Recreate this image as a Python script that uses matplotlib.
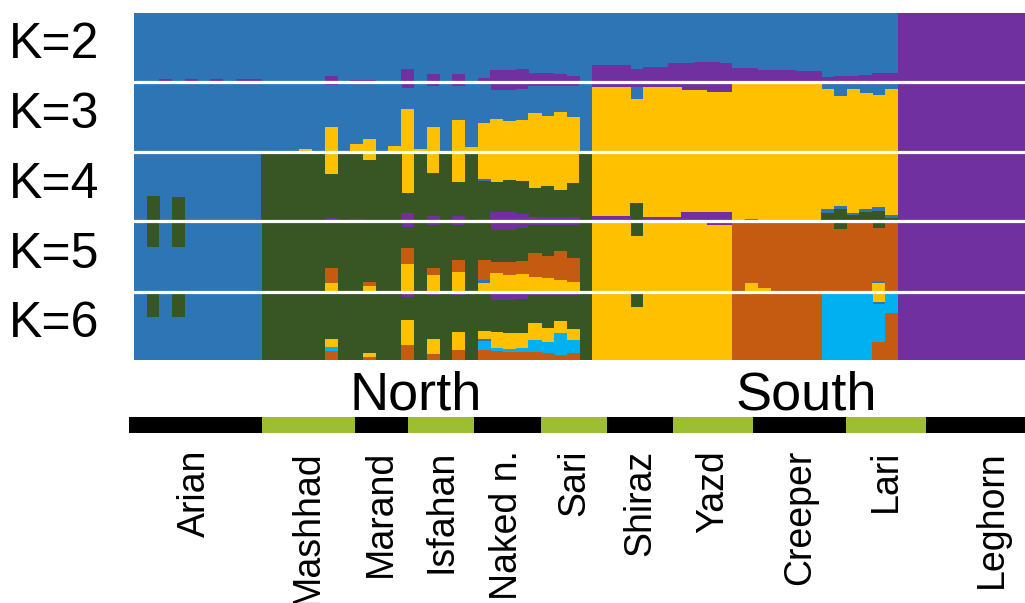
import numpy as np
import matplotlib
matplotlib.use("Agg")
import matplotlib.pyplot as plt
from matplotlib import font_manager as fm
from matplotlib.lines import Line2D
import matplotlib.transforms as mtransforms

# ---------------- data ----------------
populations = ["Arian", "Mashhad", "Marand", "Isfahan", "Naked n.", "Sari",
               "Shiraz", "Yazd", "Creeper", "Lari", "Leghorn"]
pop_sizes = [10, 7, 4, 5, 5, 5, 5, 6, 7, 6, 10]
k_labels = ["K=2", "K=3", "K=4", "K=5", "K=6"]
region_labels = ["North", "South"]

Z10 = [0, 0, 0, 0, 0, 0, 0, 0, 0, 0]
ONE10 = [1, 1, 1, 1, 1, 1, 1, 1, 1, 1]

# K=2 (top -> bottom: blue, purple); blue = remainder
k2_purple = ([.01, .01, .04, .01, .04, .01, .04, .01, .04, .04]
             + [0, 0, 0, 0, 0, .09, 0] + [.03, .03, 0, 0] + [.19, 0, .12, 0, .12]
             + [0, .06, .17, .17, .19] + [.13, .13, .12, .09, 0]
             + [.25, .25, .25, .19, .22] + [.22, .27, .28, .29, .29, .28]
             + [.20, .20, .17, .17, .18, .16, .16] + [.07, .08, .09, .10, .13, .13]
             + ONE10)

# K=3 (top -> bottom: purple, blue, yellow); blue = remainder
k3_purple = ([0, 0, .02, 0, .02, 0, .02, 0, .02, .02]
             + [0, 0, 0, 0, 0, .04, 0] + [.02, .02, 0, 0] + [.09, 0, .06, 0, .06]
             + [0, .03, .11, .11, .10] + [.06, .06, .06, .05, 0]
             + [.07, .07, .07, .07, .07] + [.07, .07, .11, .11, .14, .14]
             + [.02, 0, 0, 0, 0, 0, 0] + [0, 0, 0, 0, 0, 0]
             + ONE10)
k3_yellow = (Z10
             + [0, 0, 0, .04, 0, .36, 0] + [.11, .19, 0, .09] + [.61, .04, .36, 0, .46]
             + [.07, .41, .47, .44, .46] + [.56, .51, .57, .50, 0]
             + [.93, .93, .93, .76, .93] + [.93, .93, .89, .89, .86, .86]
             + [.98, .99, 1, 1, .98, 1, 1] + [.90, .80, .90, .85, .82, .90]
             + Z10)

# K=4 (top -> bottom: yellow, blue, green, purple); green = remainder
k4_yellow = (Z10
             + [0, 0, 0, .02, 0, .32, 0] + [0, .12, 0, 0] + [.59, 0, .30, 0, .43]
             + [0, .39, .43, .41, .42] + [.52, .49, .55, .45, 0]
             + [.93, .93, .93, .74, .94] + [.94, .94, .87, .87, .87, .87]
             + [.99, .97, .98, .99, .99, .99, .99] + [.83, .78, .88, .82, .79, .91]
             + Z10)
k4_blue = ([1, .64, 1, .65, 1, 1, 1, 1, 1, 1]
           + [0, 0, 0, 0, 0, 0, 0] + [0, 0, 0, 0] + [0, 0, 0, 0, 0]
           + [0, .03, 0, 0, 0] + [0, 0, 0, 0, 0]
           + [0, 0, 0, 0, 0] + [0, 0, 0, 0, 0, 0]
           + [.01, .03, .02, .01, .01, .01, .01] + [.05, .05, .03, .05, .06, .05]
           + Z10)
k4_purple = (Z10
             + [0, 0, 0, 0, 0, .05, 0] + [.03, .02, 0, 0] + [.11, 0, .07, 0, .07]
             + [0, .03, .13, .13, .10] + [.06, .06, .06, .06, 0]
             + [.07, .07, .07, 0, .06] + [.06, .06, .13, .13, .13, .13]
             + [0, 0, 0, 0, 0, 0, 0] + [0, 0, 0, 0, 0, 0]
             + ONE10)

# K=5 (top -> bottom: purple, green, orange, blue, yellow); green = remainder
k5_purple = (Z10
             + [0, 0, 0, 0, 0, .03, 0] + [.02, .02, 0, 0] + [.09, 0, .06, 0, .06]
             + [0, .03, .13, .13, .10] + [.06, .06, .06, .05, 0]
             + [.02, .02, .02, 0, .02] + [.02, .02, .03, .03, .05, .05]
             + [0, 0, 0, 0, 0, 0, 0] + [0, 0, 0, 0, 0, 0]
             + ONE10)
k5_orange = (Z10
             + [0, 0, 0, 0, 0, .21, 0] + [0, .06, 0, 0] + [.23, 0, .10, 0, .17]
             + [0, .28, .15, .18, .18] + [.34, .31, .41, .34, 0]
             + [0, 0, 0, 0, 0] + [0, 0, 0, 0, 0, 0]
             + [1, .87, .94, 1, 1, 1, 1] + [1, .89, 1, 1, .74, 1]
             + Z10)
k5_blue = ([1, .63, 1, .63, 1, 1, 1, 1, 1, 1]
           + [0, 0, 0, 0, 0, 0, 0] + [0, 0, 0, 0] + [0, 0, 0, 0, 0]
           + [0, .04, 0, 0, 0] + [0, 0, 0, 0, 0]
           + [0, 0, 0, 0, 0] + [0, 0, 0, 0, 0, 0]
           + [0, 0, 0, 0, 0, 0, 0] + [0, 0, 0, 0, .03, 0]
           + Z10)
k5_yellow = (Z10
             + [0, 0, 0, 0, 0, .13, 0] + [0, .08, 0, 0] + [.39, 0, .24, 0, .28]
             + [0, .13, .27, .24, .25] + [.21, .20, .17, .14, 0]
             + [.98, .98, .98, .79, .98] + [.98, .98, .97, .97, .95, .95]
             + [0, .13, .06, 0, 0, 0, 0] + [0, 0, 0, 0, .13, 0]
             + Z10)

# K=6 (top -> bottom: purple, green, yellow, blue, light blue, orange); green = remainder
k6_purple = (Z10
             + [0, 0, 0, 0, 0, .03, 0] + [0, .03, 0, 0] + [.07, 0, .04, 0, .04]
             + [0, .03, .12, .12, .10] + [.04, .04, .04, .04, 0]
             + [0, 0, 0, 0, 0] + [0, 0, 0, 0, .03, .03]
             + [0, 0, 0, 0, 0, 0, 0] + [0, 0, 0, 0, 0, 0]
             + ONE10)
k6_yellow = (Z10
             + [0, 0, 0, 0, 0, .12, 0] + [0, .06, 0, 0] + [.37, 0, .22, 0, .26]
             + [0, .12, .24, .24, .22] + [.25, .20, .18, .16, 0]
             + [1, 1, 1, .78, 1] + [1, 1, 1, 1, .97, .97]
             + [0, 0, 0, 0, 0, 0, 0] + [0, 0, 0, 0, .15, 0]
             + Z10)
k6_blue = ([1, .63, 1, .63, 1, 1, 1, 1, 1, 1]
           + [0, 0, 0, 0, 0, 0, 0] + [0, 0, 0, 0] + [0, 0, 0, 0, 0]
           + [0, .03, 0, 0, 0] + [0, 0, 0, 0, 0]
           + [0, 0, 0, 0, 0] + [0, 0, 0, 0, 0, 0]
           + [0, 0, 0, 0, 0, 0, 0] + [0, 0, 0, 0, .03, 0]
           + Z10)
k6_lightblue = (Z10
                + [0, 0, 0, 0, 0, .06, 0] + [0, 0, 0, 0] + [0, 0, 0, 0, 0]
                + [0, .13, .04, .04, .06] + [.18, .17, .32, .20, 0]
                + [0, 0, 0, 0, 0] + [0, 0, 0, 0, 0, 0]
                + [0, 0, 0, 0, 0, 0, 0] + [1, 1, 1, 1, .56, .31]
                + Z10)
k6_orange = (Z10
             + [0, 0, 0, 0, 0, .13, 0] + [0, .04, 0, 0] + [.22, 0, .09, 0, .15]
             + [0, .15, .13, .12, .12] + [.12, .10, .07, .10, 0]
             + [0, 0, 0, 0, 0] + [0, 0, 0, 0, 0, 0]
             + [1, 1, 1, 1, 1, 1, 1] + [0, 0, 0, 0, .26, .69]
             + Z10)

# ---------------- style ----------------
BLUE = "#2E75B6"
PURPLE = "#7030A0"
YELLOW = "#FFC000"
GREEN = "#375623"
ORANGE = "#C55A11"
LBLUE = "#00B0F0"
BAR_GREEN = "#9DBE32"


def remainder(*parts):
    tot = np.sum([np.asarray(p, float) for p in parts], axis=0)
    return np.clip(1 - tot, 0, 1)


panels = [
    [(BLUE, remainder(k2_purple)), (PURPLE, k2_purple)],
    [(PURPLE, k3_purple), (BLUE, remainder(k3_purple, k3_yellow)), (YELLOW, k3_yellow)],
    [(YELLOW, k4_yellow), (BLUE, k4_blue),
     (GREEN, remainder(k4_yellow, k4_blue, k4_purple)), (PURPLE, k4_purple)],
    [(PURPLE, k5_purple), (GREEN, remainder(k5_purple, k5_orange, k5_blue, k5_yellow)),
     (ORANGE, k5_orange), (BLUE, k5_blue), (YELLOW, k5_yellow)],
    [(PURPLE, k6_purple),
     (GREEN, remainder(k6_purple, k6_yellow, k6_blue, k6_lightblue, k6_orange)),
     (YELLOW, k6_yellow), (BLUE, k6_blue), (LBLUE, k6_lightblue), (ORANGE, k6_orange)],
]

names = {f.name for f in fm.fontManager.ttflist}
MAIN_FONT = "Liberation Sans" if "Liberation Sans" in names else "DejaVu Sans"
if "Liberation Sans Narrow" in names:
    LABEL_FONT, LABEL_SIZE = "Liberation Sans Narrow", 32
else:
    LABEL_FONT, LABEL_SIZE = MAIN_FONT, 27

W, H = 1025, 603
fig = plt.figure(figsize=(W / 100, H / 100), dpi=100)


def fx(px):
    return px / W


def fy(py):
    return 1 - py / H


n_ind = sum(pop_sizes)
x = np.arange(n_ind)
edges_px = [13, 82, 152, 221, 292, 360]
plot_left, plot_right = 134, 1025

for k, comps in enumerate(panels):
    top, bot = edges_px[k], edges_px[k + 1]
    ax = fig.add_axes([fx(plot_left), fy(bot), (plot_right - plot_left) / W, (bot - top) / H])
    bottom = np.zeros(n_ind)
    for color, vals in comps:
        vals = np.asarray(vals, float)
        ax.bar(x - 0.01, vals, width=1.03, bottom=bottom, align="edge", color=color,
               linewidth=0, antialiased=False)
        bottom = bottom + vals
    ax.set_xlim(0, n_ind)
    ax.set_ylim(1, 0)
    ax.axis("off")
    yc = (top + bot) / 2 - 2
    fig.text(fx(9), fy(yc), k_labels[k], ha="left", va="center",
             fontsize=36, family=MAIN_FONT, color="black")

# white separator lines between panels
for py in edges_px[1:-1]:
    fig.add_artist(Line2D([fx(plot_left), fx(plot_right)], [fy(py), fy(py)],
                          color="white", linewidth=2.3, transform=fig.transFigure))

# population bar
bar_left_px, bar_unit_px = 129, 13.28
axb = fig.add_axes([fx(bar_left_px), fy(433), n_ind * bar_unit_px / W, 16 / H])
starts = np.concatenate([[0], np.cumsum(pop_sizes)[:-1]])
bar_colors = ["black" if i % 2 == 0 else BAR_GREEN for i in range(len(pop_sizes))]
axb.bar(starts, np.ones(len(pop_sizes)), width=pop_sizes, align="edge",
        color=bar_colors, linewidth=0)
axb.set_xlim(0, n_ind)
axb.set_ylim(0, 1)
axb.axis("off")

trans = mtransforms.blended_transform_factory(axb.transData, fig.transFigure)
for name, s, n in zip(populations, starts, pop_sizes):
    axb.text(s + n / 2, fy(450), name, transform=trans, rotation=90,
             ha="center", va="top", fontsize=LABEL_SIZE, family=LABEL_FONT,
             clip_on=False)

fig.text(fx(416), fy(395), region_labels[0], ha="center", va="center",
         fontsize=39, family=MAIN_FONT)
fig.text(fx(806), fy(395), region_labels[1], ha="center", va="center",
         fontsize=39, family=MAIN_FONT)

fig.savefig("out.png", dpi=100)
